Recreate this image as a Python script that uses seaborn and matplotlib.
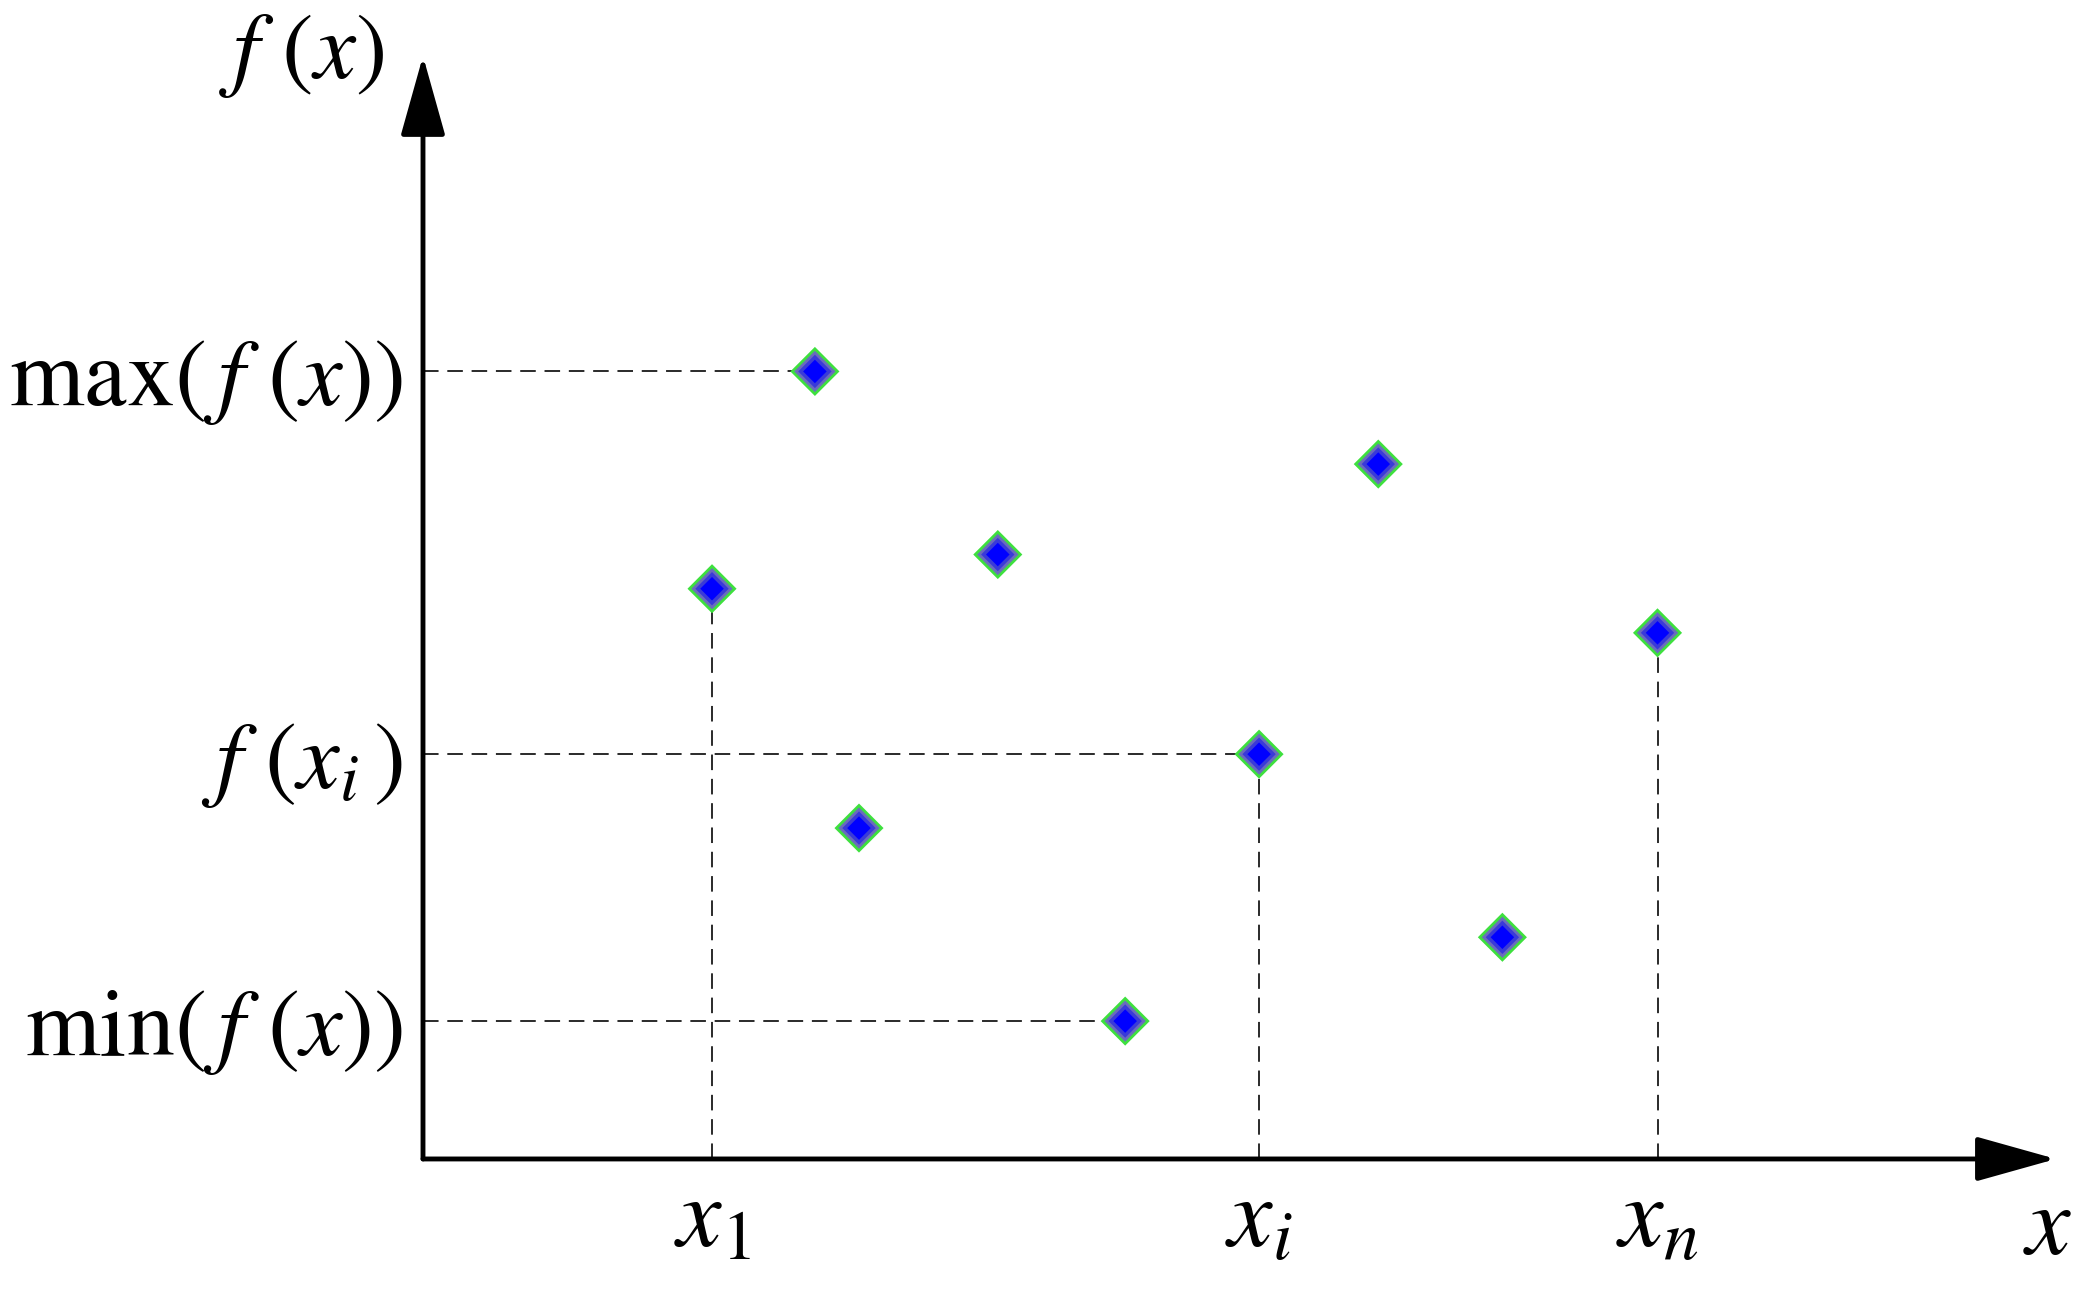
import numpy as np
import pandas as pd
import matplotlib.pyplot as plt
import seaborn as sns

# titik-titik sampel (satuan sumbu bebas, 0..10)
pts_x = [1.77, 2.40, 2.67, 3.52, 4.30, 5.12, 5.85, 6.61, 7.56]
pts_y = [5.17, 7.14, 3.00, 5.48, 1.25, 3.67, 6.30, 2.01, 4.77]

# indeks titik yang diberi label
idx_x1, idx_xi, idx_xn = 0, 5, 8
idx_max, idx_min = 1, 4

xtick_labels = [r'$x_1$', r'$x_i$', r'$x_n$']
ytick_labels = [r'$\mathrm{min}(\,f\,\,(x))$', r'$f\,\,(x_i\,)$',
                r'$\mathrm{max}(\,f\,\,(x))$']

df = pd.DataFrame({'x': pts_x, 'y': pts_y})

sns.set_style('white')
plt.rcParams['mathtext.fontset'] = 'stix'
plt.rcParams['font.family'] = ['STIXGeneral', 'DejaVu Serif']
plt.rcParams['text.color'] = 'black'
plt.rcParams['xtick.color'] = 'black'
plt.rcParams['ytick.color'] = 'black'

fig = plt.figure(figsize=(20.93, 12.99), dpi=100)
ax = fig.add_axes([0.2021, 0.1078, 0.7802, 0.8491])
ax.set_xlim(0, 10)
ax.set_ylim(0, 10)
sns.despine(ax=ax, left=True, bottom=True)

# garis putus-putus
dash = dict(color='#2a2a2a', lw=1.4, dashes=(8, 4.5), zorder=1)
for i in [idx_max, idx_xi, idx_min]:
    ax.plot([0, pts_x[i]], [pts_y[i], pts_y[i]], **dash)
for i in [idx_x1, idx_xi, idx_xn]:
    ax.plot([pts_x[i], pts_x[i]], [0, pts_y[i]], **dash)

# marker berlapis (hijau -> abu-biru -> biru)
layers = [(25, '#3ee03e'), (21, '#6b6bbd'), (17, '#3a3ad8'), (12, '#0000ff')]
for size, col in layers:
    sns.scatterplot(data=df, x='x', y='y', marker='D', s=size ** 2,
                    color=col, edgecolor='none', linewidth=0, ax=ax, zorder=3)

# sumbu dengan panah
arrow = dict(arrowstyle='-|>,head_length=2.5,head_width=0.7', color='black',
             lw=3.5, shrinkA=0, shrinkB=0, mutation_scale=20)
ax.annotate('', xy=(1, 0), xytext=(0, 0), xycoords='axes fraction',
            arrowprops=arrow, annotation_clip=False)
ax.annotate('', xy=(0, 1), xytext=(0, 0), xycoords='axes fraction',
            arrowprops=arrow, annotation_clip=False)

# label tick
ax.set_xticks([pts_x[idx_x1], pts_x[idx_xi], pts_x[idx_xn]])
ax.set_xticklabels(xtick_labels, fontsize=72)
ax.set_yticks([pts_y[idx_min], pts_y[idx_xi], pts_y[idx_max]])
ax.set_yticklabels(ytick_labels, fontsize=69)
ax.tick_params(axis='x', length=0, pad=14)
ax.tick_params(axis='y', length=0, pad=14)
ax.set_xlabel('')
ax.set_ylabel('')

ax.text(-0.024, 1.0, r'$f\,\,(x)$', transform=ax.transAxes, fontsize=68,
        ha='right', va='center')
ax.text(0.995, -0.065, r'$x$', transform=ax.transAxes, fontsize=72,
        ha='center', va='center')

fig.savefig('out.png', dpi=100, facecolor='white')
